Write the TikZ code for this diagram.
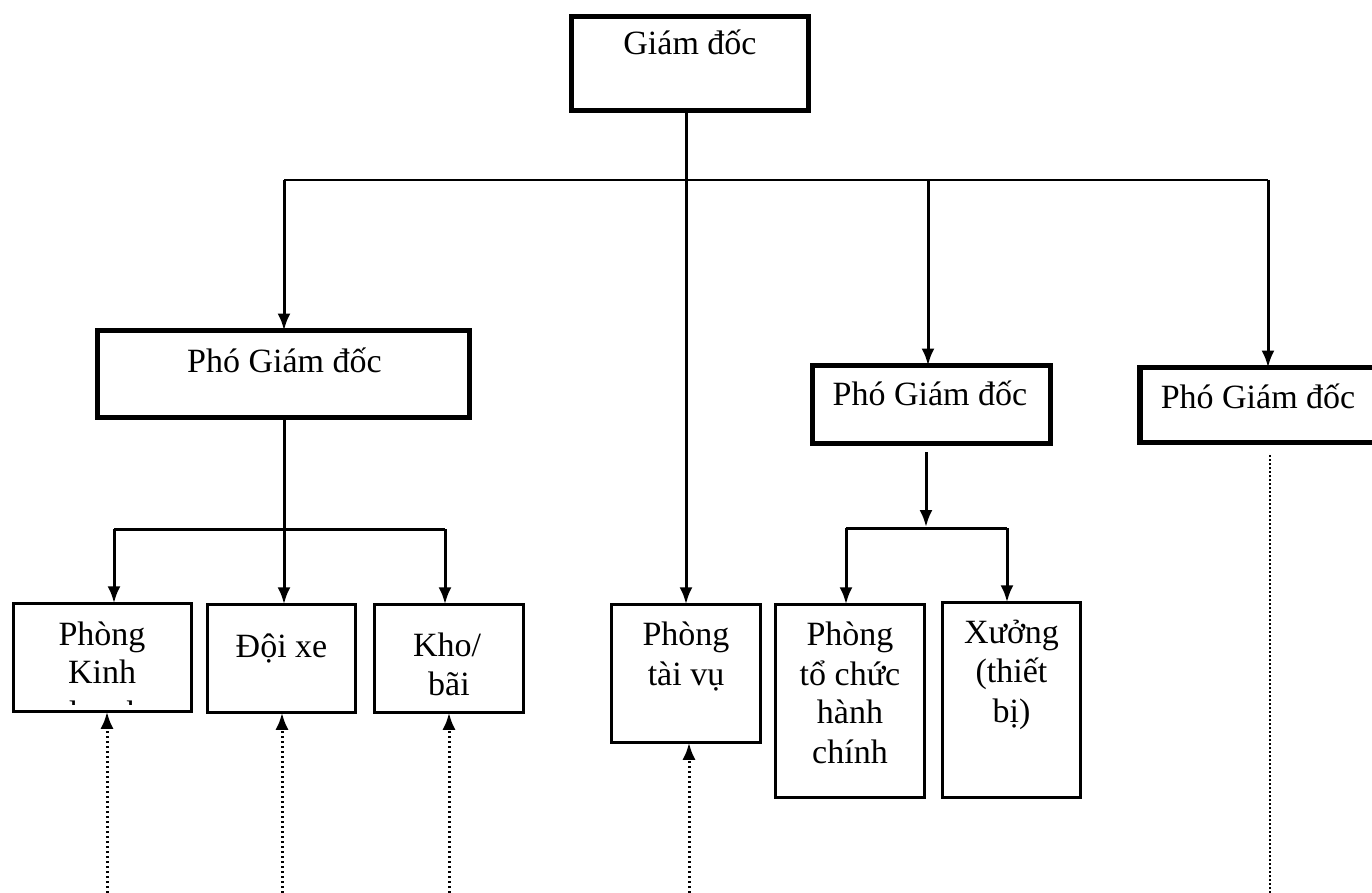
\documentclass[tikz,border=0pt]{standalone}
\usepackage{fontspec}
\setmainfont{Liberation Serif}
\usetikzlibrary{arrows.meta}
\begin{document}
\begin{tikzpicture}[x=1pt,y=-1pt,
  thickbox/.style={draw,line width=5.5pt,inner sep=0pt,outer sep=0pt},
  thinbox/.style={draw,line width=3pt,inner sep=0pt,outer sep=0pt},
  txt/.style={anchor=base,inner sep=0pt,font=\fontsize{34}{40}\selectfont},
  conn/.style={line width=3pt},
  arr/.style={line width=3pt,-{Latex[length=17pt,width=13pt]}},
  dotarr/.style={line width=3pt,dash pattern=on 2.5pt off 2.5pt,-{Latex[length=17pt,width=13pt]}},
  fine/.style={line width=1.6pt,dash pattern=on 1.5pt off 2.5pt}]
\useasboundingbox (0,0) rectangle (1372,893);
% boxes
\node[thickbox,minimum width=237pt,minimum height=94pt] (gd) at (690,63.5) {};
\node[thickbox,minimum width=372pt,minimum height=87pt] (pgd1) at (283.5,374) {};
\node[thickbox,minimum width=238pt,minimum height=78pt] (pgd2) at (931.5,404.5) {};
\node[thickbox,minimum width=260pt,minimum height=75pt] (pgd3) at (1270,405) {};
\node[thinbox,minimum width=178.5pt,minimum height=108.5pt] (pk) at (102.5,657.5) {};
\node[thinbox,minimum width=148.5pt,minimum height=108.5pt] (dx) at (281.5,658.5) {};
\node[thinbox,minimum width=149.5pt,minimum height=108.5pt] (kb) at (449,658.5) {};
\node[thinbox,minimum width=149.5pt,minimum height=138.5pt] (tv) at (686,673.5) {};
\node[thinbox,minimum width=149.5pt,minimum height=193.5pt] (tc) at (850,701) {};
\node[thinbox,minimum width=138.5pt,minimum height=195.5pt] (xg) at (1011.5,700) {};
% texts
\node[txt] (tgd) at (690,55) {Giám đốc};
\node[txt] (tp1) at (284.5,372) {Phó Giám đốc};
\node[txt] (tp2) at (930,405) {Phó Giám đốc};
\node[txt] (tp3) at (1258,408) {Phó Giám đốc};
\node[txt] (tpk1) at (102,645) {Phòng};
\node[txt] (tpk2) at (102,683) {Kinh};
\begin{scope}
  \clip (14,600) rectangle (190,704.5);
  \node[txt] (tpk3) at (102,724) {doanh};
\end{scope}
\node[txt] (tdx) at (281.5,657) {Đội xe};
\node[txt] (tkb1) at (447,656) {Kho/};
\node[txt] (tkb2) at (449,695) {bãi};
\node[txt] (ttv1) at (686,645) {Phòng};
\node[txt] (ttv2) at (686,685) {tài vụ};
\node[txt] (ttc1) at (850,645) {Phòng};
\node[txt] (ttc2) at (850,685) {tổ chức};
\node[txt] (ttc3) at (850,723) {hành};
\node[txt] (ttc4) at (850,763) {chính};
\node[txt] (txg1) at (1011.5,643) {Xưởng};
\node[txt] (txg2) at (1011.5,682) {(thiết};
\node[txt] (txg3) at (1011.5,722) {bị)};
% coordinates
\coordinate (bL) at (284,180);
\coordinate (bM) at (928,180);
\coordinate (bR) at (1268,180);
\coordinate (s1) at (926,452);
\coordinate (s1e) at (926,527);
\coordinate (b2L) at (114,529);
\coordinate (b2M) at (284,529);
\coordinate (b2R) at (445,529);
\coordinate (b3L) at (846,528);
\coordinate (b3R) at (1007,528);
\coordinate (e1) at (107,893);
\coordinate (e2) at (282,893);
\coordinate (e3) at (449,893);
\coordinate (e4) at (689,893);
\coordinate (f1) at (1270,455);
\coordinate (f2) at (1270,893);
% connectors
\draw[arr] (tv.north |- gd.south) -- (tv.north);
\draw[line width=2.2pt] (bL) -- (bR);
\draw[arr] (bL) -- (bL |- pgd1.north);
\draw[arr] (bM) -- (bM |- pgd2.north);
\draw[arr] (bR) -- (bR |- pgd3.north);
\draw[arr] (b2M |- pgd1.south) -- (b2M |- dx.north);
\draw[conn] (b2L) -- (b2R);
\draw[arr] (b2L) -- (b2L |- pk.north);
\draw[arr] (b2R) -- (b2R |- kb.north);
\draw[arr] (s1) -- (s1e);
\draw[conn] (b3L) -- (b3R);
\draw[arr] (b3L) -- (b3L |- tc.north);
\draw[arr] (b3R) -- (b3R |- xg.north);
\draw[dotarr] (e1) -- (e1 |- pk.south);
\draw[dotarr] (e2) -- (e2 |- dx.south);
\draw[dotarr] (e3) -- (e3 |- kb.south);
\draw[dotarr] (e4) -- (e4 |- tv.south);
\draw[fine] (f1) -- (f2);
\end{tikzpicture}
\end{document}
